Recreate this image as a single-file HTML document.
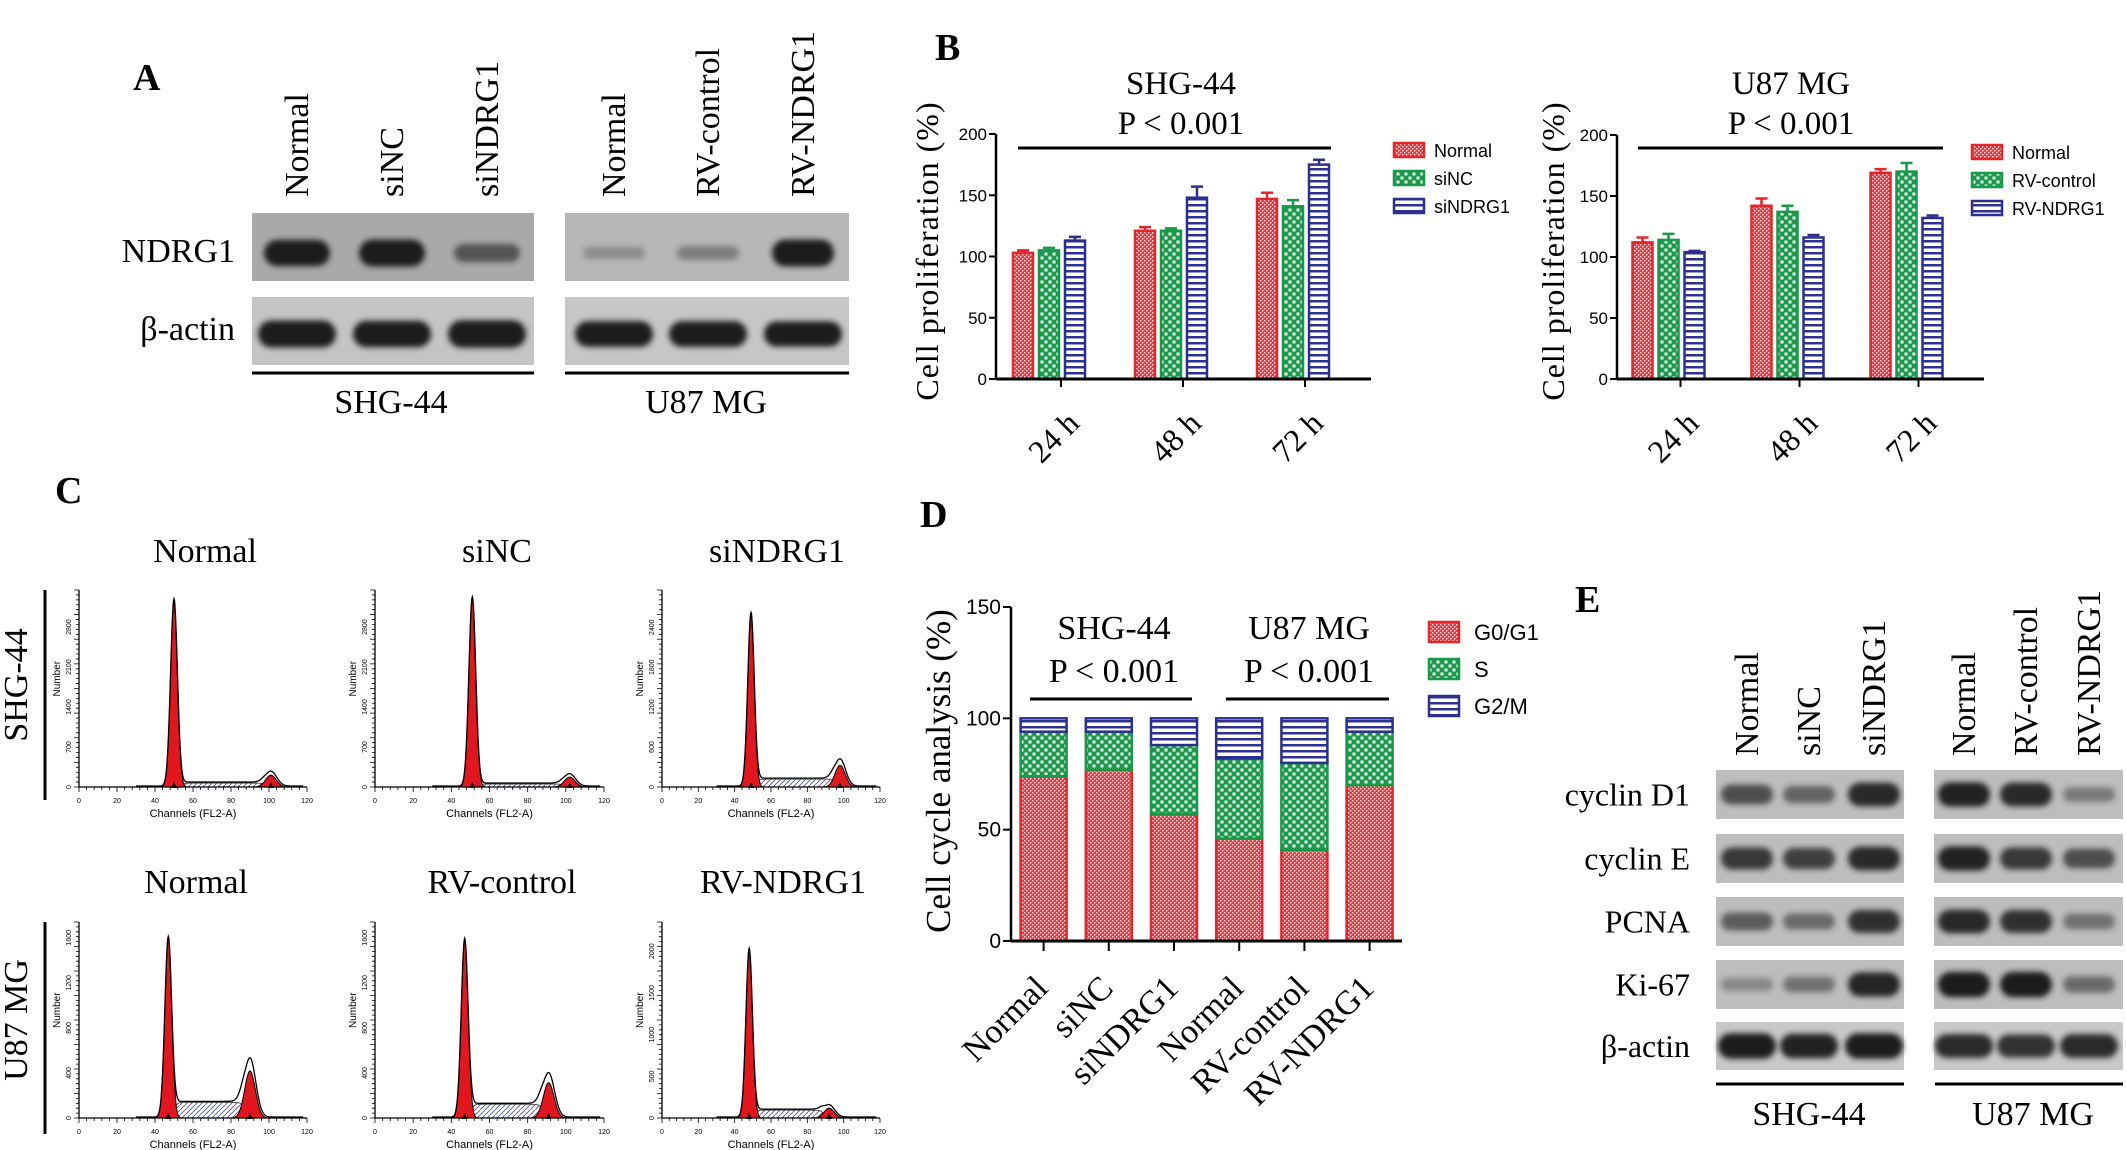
<!DOCTYPE html>
<html><head><meta charset="utf-8">
<style>
html,body{margin:0;padding:0;background:#fff;}
svg{display:block;}
text{font-family:"Liberation Serif",serif;fill:#000;}
.sans{font-family:"Liberation Sans Narrow","Liberation Sans",sans-serif;}
</style></head>
<body>
<svg id="fig" width="2126" height="1150" viewBox="0 0 2126 1150" xmlns="http://www.w3.org/2000/svg">
<defs>
<pattern id="pRed" width="4" height="4" patternUnits="userSpaceOnUse"><rect width="4" height="4" fill="#ea3a3f"/><rect x="0" y="0" width="1.5" height="1.5" fill="#fff" opacity="0.8"/><rect x="2" y="2" width="1.5" height="1.5" fill="#fff" opacity="0.8"/></pattern>
<pattern id="pGreen" width="8" height="8" patternUnits="userSpaceOnUse"><rect width="8" height="8" fill="#1c9a4c"/><rect x="0.5" y="0.5" width="3" height="3" fill="#fff" opacity="0.9"/><rect x="4.5" y="4.5" width="3" height="3" fill="#fff" opacity="0.9"/></pattern>
<pattern id="pBlue" width="6" height="6" patternUnits="userSpaceOnUse"><rect width="6" height="6" fill="#fff"/><rect y="0" width="6" height="2.5" fill="#2e3192"/></pattern>
<pattern id="pHatch" width="5" height="5" patternUnits="userSpaceOnUse"><rect width="5" height="5" fill="#fff"/><path d="M0,5 L5,0" stroke="#4a4f9a" stroke-width="0.9"/></pattern>
<filter id="blur" x="-20%" y="-50%" width="140%" height="200%"><feGaussianBlur stdDeviation="3"/></filter>
</defs>
</svg>
<script>
const NS='http://www.w3.org/2000/svg';
const svg=document.getElementById('fig');
function mk(tag,attrs,parent){const e=document.createElementNS(NS,tag);for(const k in attrs)e.setAttribute(k,attrs[k]);(parent||svg).appendChild(e);return e;}
function txt(s,attrs,parent){const e=mk('text',attrs,parent);e.textContent=s;return e;}

/* ---------- DATA ---------- */
const bTimes=['24 h','48 h','72 h'];
const bTicks=[0,50,100,150,200];
const shgNormal=[103,121,147];
const shgSiNC=[105,121,141];
const shgSiNDRG1=[113,148,175];
const shgErrNormal=[2,3,5];
const shgErrSiNC=[2,2,5];
const shgErrSiNDRG1=[3,9,4];
const u87Normal=[112,142,169];
const u87RVcontrol=[114,137,170];
const u87RVNDRG1=[104,116,132];
const u87ErrNormal=[4,6,3];
const u87ErrRVcontrol=[5,5,7];
const u87ErrRVNDRG1=[1,2,2];

const dCats=['Normal','siNC','siNDRG1','Normal','RV-control','RV-NDRG1'];
const dG0G1=[74,77,57,46,41,70];
const dS=[20,17,31,36,39,24];
const dG2M=[6,6,12,18,20,6];
const dTicks=[0,50,100,150];

const histTitles=['Normal','siNC','siNDRG1','Normal','RV-control','RV-NDRG1'];
const histG1Pos=[50,51,49,47,47,48];
const histG1Height=[0.95,0.96,0.88,0.92,0.91,0.86];
const histG2Pos=[101,102,98,90,91,92];
const histG2Height=[0.06,0.05,0.11,0.24,0.18,0.05];
const histSHeight=[0.02,0.015,0.04,0.08,0.07,0.04];
const histYMax=[3450,3450,2960,1740,1740,2350];
const histYTicks=[[0,700,1400,2100,2800],[0,700,1400,2100,2800],[0,600,1200,1800,2400],[0,400,800,1200,1600],[0,400,800,1200,1600],[0,500,1000,1500,2000]];
const histXTicks=[0,20,40,60,80,100,120];

const aLanesLeft=['Normal','siNC','siNDRG1'];
const aLanesRight=['Normal','RV-control','RV-NDRG1'];
const aNDRG1Left=[0.9,0.95,0.45];
const aNDRG1Right=[0.12,0.22,0.95];
const aActinLeft=[0.95,0.92,0.97];
const aActinRight=[0.88,0.88,0.85];

const eProteins=['cyclin D1','cyclin E','PCNA','Ki-67','β-actin'];
const eLeft=[[0.6,0.45,0.85],[0.75,0.7,0.85],[0.5,0.4,0.8],[0.2,0.35,0.88],[0.95,0.9,0.95]];
const eRight=[[0.9,0.85,0.3],[0.9,0.75,0.6],[0.85,0.8,0.35],[0.95,0.95,0.4],[0.85,0.8,0.85]];

/* ---------- PANEL LETTERS ---------- */
[['A',133,90],['B',935,60],['C',55,503],['D',920,527],['E',1575,612]].forEach(p=>{
  const t=txt(p[0],{x:p[1],y:p[2],'font-size':38,'font-weight':'bold'});
  
  
});

/* ---------- BLOT HELPERS ---------- */
function blotBox(x,y,w,h,fill,name){
  const r=mk('rect',{x:x,y:y,width:w,height:h,fill:fill});
  
  
}
function band(cx,cy,w,inten,name){
  const h=10+18*inten;
  const r=mk('rect',{x:cx-w/2,y:cy-h/2,width:w,height:h,rx:h/2,fill:'#1e1e1e',opacity:Math.min(1,0.15+inten),filter:'url(#blur)'});
  
  
}
function vlabel(s,xc,ybottom,size,name){
  const bx=xc+size*0.33;
  const t=txt(s,{x:bx,y:ybottom,'font-size':size,transform:`rotate(-90 ${bx} ${ybottom})`});
  
  
}

/* ---------- PANEL A ---------- */
const aLeftX=[297,392,487], aRightX=[614,708,803];
aLanesLeft.forEach((l,i)=>vlabel(l,aLeftX[i],197,34,'a-lane-label'));
aLanesRight.forEach((l,i)=>vlabel(l,aRightX[i],197,34,'a-lane-label'));
blotBox(252,213,282,68,'#a9a9a9','a-ndrg1-blot-shg44');
blotBox(565,213,284,68,'#b7b7b7','a-ndrg1-blot-u87');
blotBox(252,297,282,68,'#c4c4c4','a-actin-blot-shg44');
blotBox(565,297,284,68,'#c6c6c6','a-actin-blot-u87');
aNDRG1Left.forEach((v,i)=>band(aLeftX[i],253,66,v,'a-ndrg1-band'));
aNDRG1Right.forEach((v,i)=>band(aRightX[i],253,62,v,'a-ndrg1-band'));
aActinLeft.forEach((v,i)=>band(aLeftX[i],334,78,v,'a-actin-band'));
aActinRight.forEach((v,i)=>band(aRightX[i],334,78,v,'a-actin-band'));
let t;
t=txt('NDRG1',{x:235,y:262,'font-size':34,'text-anchor':'end'});


t=txt('β-actin',{x:235,y:340,'font-size':34,'text-anchor':'end'});


let ln=mk('line',{x1:252,y1:373,x2:534,y2:373,stroke:'#000','stroke-width':3});


ln=mk('line',{x1:565,y1:373,x2:849,y2:373,stroke:'#000','stroke-width':3});


t=txt('SHG-44',{x:391,y:413,'font-size':34,'text-anchor':'middle'});


t=txt('U87 MG',{x:706,y:413,'font-size':34,'text-anchor':'middle'});



/* ---------- PANEL B ---------- */
const fills=['url(#pRed)','url(#pGreen)','url(#pBlue)'];
const strokes=['#e3262c','#169a48','#2b2f8f'];
function barChart(cfg){
  const g=mk('g',{});
  
  
  const yS=v=>cfg.y0-(v/200)*(cfg.y0-cfg.yTop);
  const xc=i=>cfg.xStart+(i+0.5)*cfg.step;
  let e=mk('line',{x1:cfg.ax,y1:yS(0)+1,x2:cfg.ax,y2:yS(200),stroke:'#000','stroke-width':2.5},g);
  
  
  bTicks.forEach(v=>{
    const tk=mk('line',{x1:cfg.ax-7,y1:yS(v),x2:cfg.ax,y2:yS(v),stroke:'#000','stroke-width':2},g);
    
    
    const tl=txt(String(v),{x:cfg.ax-9,y:yS(v)+6,'font-size':17,'text-anchor':'end',class:'sans'},g);
    
    
  });
  cfg.series.forEach((ser,k)=>{
    ser.forEach((v,i)=>{
      const x=xc(i)+(k-1)*26;
      const b=mk('rect',{x:x-10,y:yS(v),width:20,height:yS(0)-yS(v),fill:fills[k],stroke:strokes[k],'stroke-width':2.5},g);
      
      
      const er=cfg.errs[k][i];
      const eb=mk('path',{d:`M${x},${yS(v)} V${yS(v+er)} M${x-6},${yS(v+er)} H${x+6}`,stroke:strokes[k],'stroke-width':2.5,fill:'none'},g);
      
      
    });
  });
  e=mk('line',{x1:cfg.ax,y1:yS(0),x2:cfg.axEnd,y2:yS(0),stroke:'#000','stroke-width':3},g);
  
  
  bTimes.forEach((lab,i)=>{
    const tk=mk('line',{x1:xc(i)+12,y1:yS(0),x2:xc(i)+12,y2:yS(0)+8,stroke:'#000','stroke-width':2},g);
    
    
    const ax=xc(i)+32, ay=425;
    const tl=txt(lab,{x:ax,y:ay,'font-size':32,'text-anchor':'end',transform:`rotate(-45 ${ax} ${ay})`},g);
    
    
  });
  e=mk('line',{x1:cfg.lineX1,y1:148,x2:cfg.lineX2,y2:148,stroke:'#000','stroke-width':3},g);
  
  
  e=txt(cfg.title,{x:cfg.titleX,y:94,'font-size':33,'text-anchor':'middle'},g);
  
  
  e=txt('P < 0.001',{x:cfg.titleX,y:134,'font-size':33,'text-anchor':'middle'},g);
  
  
  e=txt('Cell proliferation (%)',{x:cfg.ylabX,y:251,'font-size':32,'text-anchor':'middle','letter-spacing':1,transform:`rotate(-90 ${cfg.ylabX} 251)`},g);
  
  
  cfg.names.forEach((n,k)=>{
    const ly=cfg.legY+k*28;
    const sw=mk('rect',{x:cfg.legX,y:ly-7,width:30,height:14,fill:fills[k],stroke:strokes[k],'stroke-width':2.5},g);
    
    
    const lt=txt(n,{x:cfg.legX+40,y:ly+7,'font-size':18,class:'sans'},g);
    
    
  });
}
barChart({tag:'shg44-proliferation',ax:996,axEnd:1371,y0:379,yTop:134,xStart:988,step:122,
  names:['Normal','siNC','siNDRG1'],series:[shgNormal,shgSiNC,shgSiNDRG1],errs:[shgErrNormal,shgErrSiNC,shgErrSiNDRG1],
  title:'SHG-44',titleX:1181,lineX1:1018,lineX2:1331,ylabX:938,legX:1394,legY:150});
barChart({tag:'u87-proliferation',ax:1617,axEnd:1984,y0:379,yTop:135,xStart:1609,step:119,
  names:['Normal','RV-control','RV-NDRG1'],series:[u87Normal,u87RVcontrol,u87RVNDRG1],errs:[u87ErrNormal,u87ErrRVcontrol,u87ErrRVNDRG1],
  title:'U87 MG',titleX:1791,lineX1:1638,lineX2:1943,ylabX:1564,legX:1972,legY:152});

/* ---------- PANEL C ---------- */
const histBoxes=[[79,307,590,787],[375,604,590,787],[662,880,590,787],[79,307,922,1118],[375,604,922,1118],[662,880,922,1118]];
const histTitleX=[205,497,777,196,502,783];
ln=mk('line',{x1:45,y1:590,x2:45,y2:800,stroke:'#000','stroke-width':3});


ln=mk('line',{x1:45,y1:922,x2:45,y2:1134,stroke:'#000','stroke-width':3});


t=txt('SHG-44',{x:27,y:685,'font-size':34,'text-anchor':'middle',transform:'rotate(-90 27 685)'});


t=txt('U87 MG',{x:27,y:1020,'font-size':34,'text-anchor':'middle',transform:'rotate(-90 27 1020)'});


function gauss(x,m,s){return Math.exp(-0.5*((x-m)/s)**2);}
histTitles.forEach((title,i)=>{
  const [L,R,T,B]=histBoxes[i];
  const g=mk('g',{});
  
  
  const hx=v=>L+v/120*(R-L);
  const hy=f=>B-f*(B-T);
  const g1=histG1Pos[i],g2=histG2Pos[i],h1=histG1Height[i],h2=histG2Height[i],sh=histSHeight[i];
  const sFn=x=>{const a=1/(1+Math.exp(-(x-g1-3)*1.2)),b=1/(1+Math.exp((x-g2+3)*1.2));return sh*a*b;};
  let d=`M${hx(g1)},${hy(0)}`;
  for(let x=g1;x<=g2;x+=0.5)d+=` L${hx(x)},${hy(sFn(x))}`;
  d+=` L${hx(g2)},${hy(0)} Z`;
  let e=mk('path',{d:d,fill:'url(#pHatch)',stroke:'#333','stroke-width':0.8},g);
  
  
  [[g1,h1,1.8],[g2,h2,2.8]].forEach(p=>{
    let dd=`M${hx(p[0]-4*p[2])},${hy(0)}`;
    for(let x=p[0]-4*p[2];x<=p[0]+4*p[2];x+=0.25)dd+=` L${hx(x)},${hy(p[1]*gauss(x,p[0],p[2]))}`;
    dd+=' Z';
    const pk=mk('path',{d:dd,fill:'#e3161e',stroke:'#000','stroke-width':1},g);
    
    
  });
  let od='';
  for(let x=30;x<=118;x+=0.25){const v=h1*gauss(x,g1,1.8)+h2*1.25*gauss(x,g2,3)+sFn(x)+0.005;od+=(od?' L':'M')+hx(x)+','+hy(v);}
  e=mk('path',{d:od,fill:'none',stroke:'#000','stroke-width':1.3},g);
  
  
  e=mk('path',{d:`M${L},${T} V${B} H${R}`,fill:'none',stroke:'#000','stroke-width':1.3},g);
  
  
  let tks='';
  for(let v=0;v<=120;v+=4)tks+=`M${hx(v)},${B} v${v%20===0?5:3} `;
  for(let k=0;k<=40;k++)tks+=`M${L},${T+k*(B-T)/40} h-${k%5===0?5:3} `;
  e=mk('path',{d:tks,stroke:'#000','stroke-width':0.8,fill:'none'},g);
  
  
  histXTicks.forEach(v=>{
    const tl=txt(String(v),{x:hx(v),y:B+16,'font-size':7,'text-anchor':'middle',class:'sans'},g);
    
    
  });
  histYTicks[i].forEach(v=>{
    const yy=hy(v/histYMax[i]);
    const tl=txt(String(v),{x:L-8,y:yy,'font-size':7,'text-anchor':'middle',class:'sans',transform:`rotate(-90 ${L-8} ${yy})`},g);
    
    
  });
  [g1,g2].forEach(p=>{
    const m=mk('path',{d:`M${hx(p)-3},${B+1} L${hx(p)+3},${B+1} L${hx(p)},${B-5} Z`,fill:'#000'},g);
    
    
  });
  e=txt('Channels (FL2-A)',{x:(L+R)/2,y:B+30,'font-size':11,'text-anchor':'middle',class:'sans'},g);
  
  
  const nx=L-19,ny=T+(B-T)*0.45;
  e=txt('Number',{x:nx,y:ny,'font-size':10,'text-anchor':'middle',class:'sans',transform:`rotate(-90 ${nx} ${ny})`},g);
  
  
  e=txt(title,{x:histTitleX[i],y:i<3?562:893,'font-size':34,'text-anchor':'middle'},g);
  
  
});

/* ---------- PANEL D ---------- */
(function(){
  const g=mk('g',{});
  
  
  const ax=1011,y0=941,yTop=607,axEnd=1402,step=65.2;
  const yD=v=>y0-(v/150)*(y0-yTop);
  const xD=i=>ax+(i+0.5)*step;
  dCats.forEach((c,i)=>{
    const segs=[[0,dG0G1[i]],[dG0G1[i],dG0G1[i]+dS[i]],[dG0G1[i]+dS[i],dG0G1[i]+dS[i]+dG2M[i]]];
    const segNames=['g0g1','s','g2m'];
    segs.forEach((s,k)=>{
      const r=mk('rect',{x:xD(i)-23,y:yD(s[1]),width:46,height:yD(s[0])-yD(s[1]),fill:fills[k],stroke:strokes[k],'stroke-width':2.5},g);
      
      
    });
    const tk=mk('line',{x1:xD(i),y1:y0,x2:xD(i),y2:y0+10,stroke:'#000','stroke-width':2},g);
    
    
    const lx=xD(i)+6,ly=990;
    const tl=txt(c,{x:lx,y:ly,'font-size':34,'text-anchor':'end',transform:`rotate(-45 ${lx} ${ly})`},g);
    
    
  });
  let e=mk('line',{x1:ax,y1:y0+1,x2:ax,y2:yTop,stroke:'#000','stroke-width':2.5},g);
  
  
  e=mk('line',{x1:ax,y1:y0,x2:axEnd,y2:y0,stroke:'#000','stroke-width':3},g);
  
  
  dTicks.forEach(v=>{
    const tk=mk('line',{x1:ax-8,y1:yD(v),x2:ax,y2:yD(v),stroke:'#000','stroke-width':2},g);
    
    
    const tl=txt(String(v),{x:ax-10,y:yD(v)+7,'font-size':21,'text-anchor':'end',class:'sans'},g);
    
    
  });
  e=txt('Cell cycle analysis (%)',{x:950,y:771,'font-size':35,'text-anchor':'middle',transform:'rotate(-90 950 771)'},g);
  
  
  [['SHG-44',1114,1030,1192],['U87 MG',1309,1226,1389]].forEach(h=>{
    let q=txt(h[0],{x:h[1],y:639,'font-size':34,'text-anchor':'middle'},g);
    
    
    q=txt('P < 0.001',{x:h[1],y:682,'font-size':34,'text-anchor':'middle'},g);
    
    
    q=mk('line',{x1:h[2],y1:699,x2:h[3],y2:699,stroke:'#000','stroke-width':3},g);
    
    
  });
  ['G0/G1','S','G2/M'].forEach((n,k)=>{
    const ly=632+k*37;
    const sw=mk('rect',{x:1429,y:ly-10,width:30,height:20,fill:fills[k],stroke:strokes[k],'stroke-width':2.5},g);
    
    
    const lt=txt(n,{x:1474,y:ly+8,'font-size':22,class:'sans'},g);
    
    
  });
})();

/* ---------- PANEL E ---------- */
const eLeftX=[1747,1809,1874], eRightX=[1964,2026,2089];
const eRowY=[[770,819],[834,883],[897,946],[960,1009],[1022,1070]];
aLanesLeft.forEach((l,i)=>vlabel(l,eLeftX[i],756,34,'e-lane-label'));
aLanesRight.forEach((l,i)=>vlabel(l,eRightX[i],756,34,'e-lane-label'));
eProteins.forEach((p,r)=>{
  const [y1,y2]=eRowY[r];
  const cy=(y1+y2)/2;
  blotBox(1716,y1,188,y2-y1,r===4?'#c8c8c8':'#bdbdbd','e-blot-shg44-'+r);
  blotBox(1934,y1,189,y2-y1,r===4?'#c8c8c8':'#bdbdbd','e-blot-u87-'+r);
  eLeft[r].forEach((v,i)=>band(eLeftX[i],cy,r===4?58:52,v*0.9,'e-band'));
  eRight[r].forEach((v,i)=>band(eRightX[i],cy,r===4?58:52,v*0.9,'e-band'));
  const tl=txt(p,{x:1690,y:cy+11,'font-size':32,'text-anchor':'end'});
  
  
});
ln=mk('line',{x1:1716,y1:1084,x2:1904,y2:1084,stroke:'#000','stroke-width':3});


ln=mk('line',{x1:1935,y1:1084,x2:2123,y2:1084,stroke:'#000','stroke-width':3});


t=txt('SHG-44',{x:1809,y:1125,'font-size':34,'text-anchor':'middle'});


t=txt('U87 MG',{x:2033,y:1125,'font-size':34,'text-anchor':'middle'});


</script>
</body></html>
